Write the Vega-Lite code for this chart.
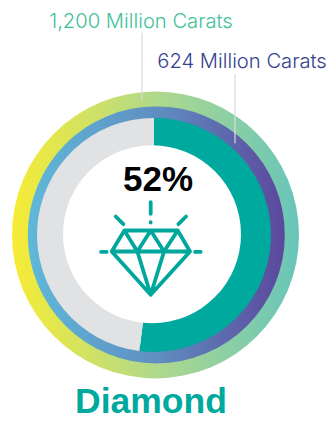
{
  "$schema": "https://vega.github.io/schema/vega-lite/v6.json",
  "width": 330,
  "height": 421,
  "autosize": {"type": "fit", "contains": "padding"},
  "padding": 0,
  "background": "white",
  "view": {"stroke": null},
  "datasets": {
    "rings": [
      {"ring": "total", "segment": "World reserves", "value": 1200},
      {"ring": "produced", "segment": "Known reserves", "value": 1200},
      {"ring": "share", "segment": "Produced", "value": 624},
      {"ring": "share", "segment": "Remaining", "value": 576},
      {"ring": "hole", "segment": "Centre", "value": 1200}
    ],
    "callouts": [
      {"label": "1,200 Million Carats", "carats": 1200},
      {"label": "624 Million Carats", "carats": 624}
    ],
    "headline": [{"mineral": "Diamond", "share": "52%"}]
  },
  "data": {"name": "rings"},
  "encoding": {
    "x": {"datum": 0, "type": "quantitative", "scale": {"domain": [-154, 176]}, "axis": null},
    "y": {"datum": 0, "type": "quantitative", "scale": {"domain": [-185, 236]}, "axis": null}
  },
  "layer": [
    {
      "transform": [{"filter": "datum.ring === 'total'"}],
      "mark": {
        "type": "arc",
        "radius": 143.5,
        "radius2": 125,
        "fill": {
          "gradient": "linear", "x1": 0, "y1": 0.5, "x2": 1, "y2": 0.5,
          "stops": [
            {"offset": 0, "color": "#f7ec35"},
            {"offset": 0.5, "color": "#b0d98c"},
            {"offset": 1, "color": "#68c5ba"}
          ]
        }
      },
      "encoding": {
        "x": {"datum": 1.5},
        "theta": {"field": "value", "type": "quantitative"}
      }
    },
    {
      "transform": [{"filter": "datum.ring === 'produced'"}],
      "mark": {
        "type": "arc",
        "radius": 128.5,
        "radius2": 112,
        "fill": {
          "gradient": "linear", "x1": 0, "y1": 0.5, "x2": 1, "y2": 0.5,
          "stops": [
            {"offset": 0, "color": "#5fb8da"},
            {"offset": 0.5, "color": "#5f8fc1"},
            {"offset": 1, "color": "#5c479c"}
          ]
        }
      },
      "encoding": {
        "x": {"datum": 2.3},
        "theta": {"field": "value", "type": "quantitative"}
      }
    },
    {
      "transform": [{"filter": "datum.ring === 'share'"}],
      "mark": {"type": "arc", "radius": 117, "radius2": 80},
      "encoding": {
        "theta": {"field": "value", "type": "quantitative"},
        "order": {"field": "value", "sort": "descending"},
        "color": {
          "field": "segment",
          "type": "nominal",
          "scale": {"domain": ["Produced", "Remaining"], "range": ["#00a99d", "#e1e2e4"]},
          "legend": null
        }
      }
    },
    {
      "transform": [{"filter": "datum.ring === 'hole'"}],
      "mark": {"type": "arc", "radius": 89, "radius2": 0, "fill": "#ffffff"},
      "encoding": {
        "x": {"datum": -2},
        "y": {"datum": 0.7},
        "theta": {"field": "value", "type": "quantitative"}
      }
    },
    {
      "data": {"name": "callouts"},
      "transform": [{"filter": "datum.carats === 1200"}],
      "mark": {"type": "rule", "color": "#d9dbdd", "strokeWidth": 1.2},
      "encoding": {
        "x": {"datum": -12},
        "y": {"datum": 203},
        "y2": {"datum": 136}
      }
    },
    {
      "data": {"name": "callouts"},
      "transform": [{"filter": "datum.carats === 624"}],
      "mark": {"type": "rule", "color": "#d9dbdd", "strokeWidth": 1.2},
      "encoding": {
        "x": {"datum": 81},
        "y": {"datum": 162},
        "y2": {"datum": 92}
      }
    },
    {
      "data": {"name": "headline"},
      "mark": {
        "type": "point",
        "filled": false,
        "size": 4444,
        "stroke": "#00a79d",
        "strokeWidth": 3.8,
        "opacity": 1,
        "strokeCap": "round",
        "strokeJoin": "round",
        "shape": "M-0.79 -0.55L0.81 -0.55L1.18 0.08L0 1.38L-1.17 0.08ZM-1.17 0.08L1.18 0.08M-0.79 -0.55L-0.4 0.08L0 -0.55L0.4 0.08L0.81 -0.55M-0.4 0.08L0 1.38L0.4 0.08M0 -1.4L0 -1.05M0 -0.8L0 -0.79M-1.05 -0.97L-0.82 -0.74M1.06 -0.97L0.83 -0.74M-1.49 0.09L-1.32 0.09M1.33 0.09L1.5 0.09"
      },
      "encoding": {
        "x": {"datum": -3.3},
        "y": {"datum": -14}
      }
    },
    {
      "data": {"name": "headline"},
      "mark": {"type": "text", "font": "Liberation Sans", "fontWeight": "bold", "fontSize": 35, "color": "#000000", "align": "center", "baseline": "alphabetic"},
      "encoding": {
        "x": {"datum": 4},
        "y": {"datum": 44},
        "text": {"field": "share"}
      }
    },
    {
      "data": {"name": "headline"},
      "mark": {"type": "text", "font": "Liberation Sans", "fontWeight": "bold", "fontSize": 35.5, "color": "#00a99d", "align": "center", "baseline": "alphabetic"},
      "encoding": {
        "x": {"datum": -3},
        "y": {"datum": -179},
        "text": {"field": "mineral"}
      }
    },
    {
      "data": {"name": "callouts"},
      "transform": [{"filter": "datum.carats === 1200"}],
      "mark": {"type": "text", "font": "Inter", "fontWeight": 300, "fontSize": 20.2, "color": "#3fc29a", "align": "center", "baseline": "alphabetic"},
      "encoding": {
        "x": {"datum": -13},
        "y": {"datum": 208},
        "text": {"field": "label"}
      }
    },
    {
      "data": {"name": "callouts"},
      "transform": [{"filter": "datum.carats === 624"}],
      "mark": {"type": "text", "font": "Inter", "fontWeight": 300, "fontSize": 20.2, "color": "#35418f", "align": "center", "baseline": "alphabetic"},
      "encoding": {
        "x": {"datum": 88},
        "y": {"datum": 168},
        "text": {"field": "label"}
      }
    }
  ]
}
